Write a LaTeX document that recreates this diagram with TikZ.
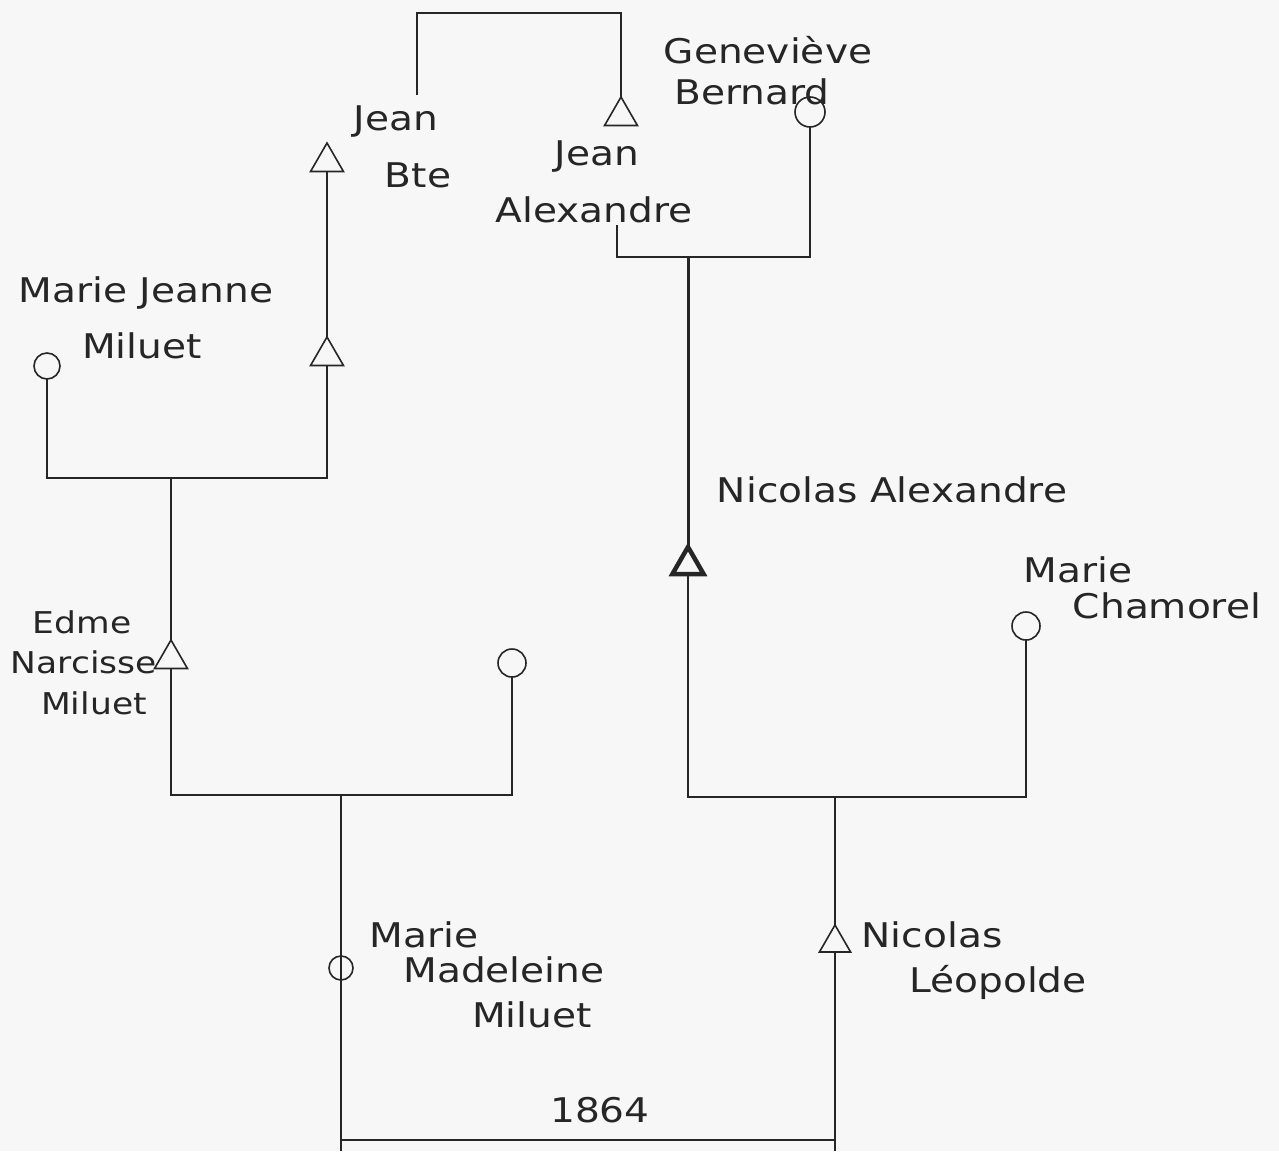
\documentclass[tikz,border=0pt]{standalone}
\usepackage{fontspec}
\setmainfont{DejaVu Sans}[FakeStretch=1.15]
\usetikzlibrary{shapes.geometric}
\begin{document}
\begin{tikzpicture}[x=1pt,y=-1pt,
  ink/.style={draw=black!85, line width=1.6pt},
  male/.style={ink, regular polygon, regular polygon sides=3, minimum size=38pt, inner sep=0pt, outer sep=0pt},
  female/.style={ink, circle, minimum size=28pt, inner sep=0pt, outer sep=0pt},
  lbl/.style={font=\fontsize{34}{38}\selectfont, text=black!85, inner sep=0pt},
  slbl/.style={lbl, font=\fontsize{30}{34}\selectfont},
  link/.style={ink},
  heavy/.style={draw=black!85, line width=3pt},
  ]
\fill[black!3] (0,0) rectangle (1279,1151);
\useasboundingbox (0,0) rectangle (1279,1151);

% people
\node[male] (jb) at (327,162) {};
\node[male] (ja) at (621,116) {};
\node[female, minimum size=30pt] (gb) at (810,112) {};
\node[female, minimum size=26pt] (mj) at (47,366) {};
\node[male] (h1) at (327,356) {};
\node[male] (ed) at (171,659) {};
\node[female] (w1) at (512,663) {};
\node[male, line width=4.5pt, minimum size=36pt] (na) at (688,565) {};
\node[female] (mc) at (1026,626) {};
\node[female, minimum size=24pt] (mm) at (341,968) {};
\node[male, minimum size=36pt] (nl) at (835,943) {};

% labels
\node[lbl] (t1) at (396,122) {Jean};
\node[lbl] (t2) at (418,175) {Bte};
\node[lbl] (t3) at (597,157) {Jean};
\node[lbl] (t4) at (594,210) {Alexandre};
\node[lbl] (t5) at (768,50) {Geneviève};
\node[lbl] (t6) at (752,92) {Bernard};
\node[lbl] (t7) at (146,293) {Marie Jeanne};
\node[lbl] (t8) at (142,346) {Miluet};
\node[slbl] (t9) at (82,622) {Edme};
\node[slbl] (t10) at (84,662) {Narcisse};
\node[slbl] (t11) at (94,703) {Miluet};
\node[lbl] (t12) at (892,490) {Nicolas Alexandre};
\node[lbl] (t13) at (1078,570) {Marie};
\node[lbl] (t14) at (1167,606) {Chamorel};
\node[lbl] (t15) at (424,935) {Marie};
\node[lbl] (t16) at (504,970) {Madeleine};
\node[lbl] (t17) at (532,1015) {Miluet};
\node[lbl] (t18) at (932,935) {Nicolas};
\node[lbl] (t19) at (998,982) {Léopolde};
\node[lbl] (t20) at (600,1110) {1864};

% junction points
\coordinate (tl) at (417,95);
\coordinate (tt) at (417,13);
\coordinate (u1) at (171,478);
\coordinate (u2) at (341,795);
\coordinate (jal) at (617,225);
\coordinate (u3) at (688,257);
\coordinate (u4) at (835,797);
\coordinate (m1) at (341,1140);
\coordinate (m2) at (835,1140);
\coordinate (bl) at (341,1151);
\coordinate (br) at (835,1151);

% connectors
\draw[link] (tl) -- (tt) -| (ja.north);
\draw[link] (jb.south) -- (h1.north);
\draw[link] (mj.south) |- (u1) -| (h1.south);
\draw[link] (u1) -- (ed.north);
\draw[link] (ed.south) |- (u2) -| (w1.south);
\draw[link] (u2) -- (mm.north);
\draw[link] (mm.north) -- (mm.south);
\draw[link] (mm.south) -- (bl);
\draw[link] (jal) |- (u3) -| (gb.south);
\draw[heavy] (u3) -- (na.north);
\draw[link] (na.south) |- (u4) -| (mc.south);
\draw[link] (u4) -- (nl.north);
\draw[link] (nl.south) -- (br);
\draw[link] (m1) -- (m2);
\end{tikzpicture}
\end{document}
